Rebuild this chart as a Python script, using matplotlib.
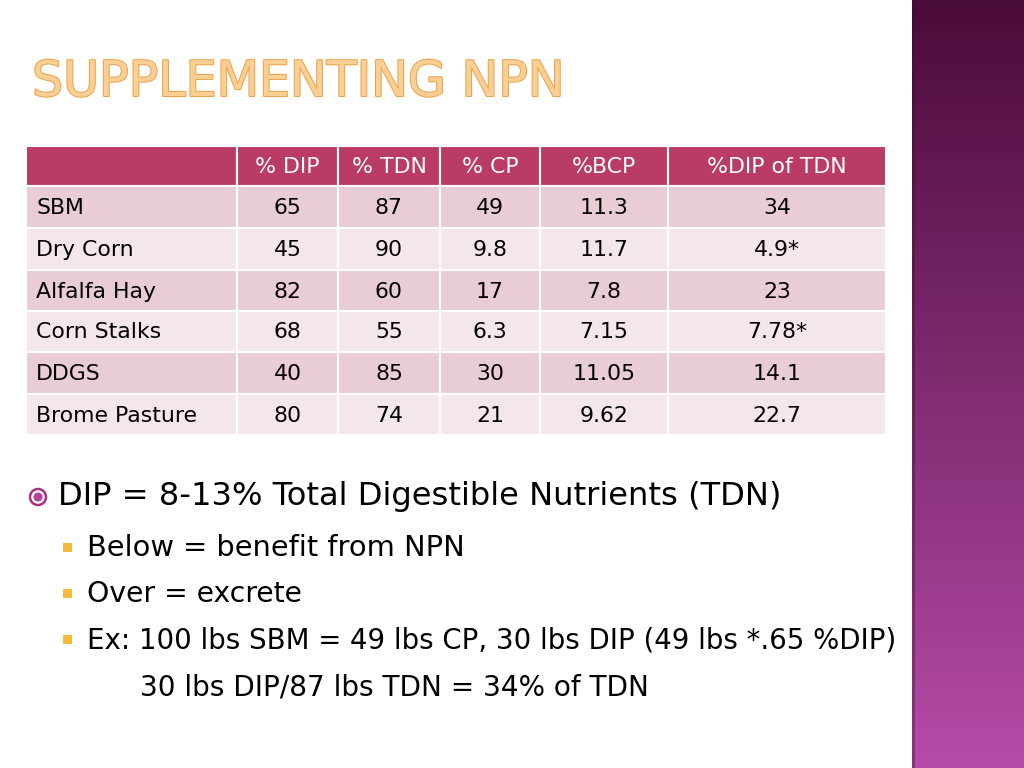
import numpy as np
import matplotlib
matplotlib.use("Agg")
import matplotlib.pyplot as plt
from matplotlib.patches import Rectangle, Circle
import matplotlib.patheffects as pe

# Table data
headers = ["", "% DIP", "% TDN", "% CP", "%BCP", "%DIP of TDN"]
feeds = ["SBM", "Dry Corn", "Alfalfa Hay", "Corn Stalks", "DDGS", "Brome Pasture"]
dip = ["65", "45", "82", "68", "40", "80"]
tdn = ["87", "90", "60", "55", "85", "74"]
cp = ["49", "9.8", "17", "6.3", "30", "21"]
bcp = ["11.3", "11.7", "7.8", "7.15", "11.05", "9.62"]
dip_of_tdn = ["34", "4.9*", "23", "7.78*", "14.1", "22.7"]

title = "SUPPLEMENTING NPN"
main_bullet = "DIP = 8-13% Total Digestible Nutrients (TDN)"
sub_bullets = ["Below = benefit from NPN",
               "Over = excrete",
               "Ex: 100 lbs SBM = 49 lbs CP, 30 lbs DIP (49 lbs *.65 %DIP)"]
extra_line = "30 lbs DIP/87 lbs TDN = 34% of TDN"

FONT = "DejaVu Sans"
TSIZE = 15.8

fig = plt.figure(figsize=(10.24, 7.68), dpi=100)
ax = fig.add_axes([0, 0, 1, 1])
ax.set_xlim(0, 1024)
ax.set_ylim(768, 0)
ax.axis("off")

# purple sidebar gradient
c_top = np.array([0x4a, 0x0c, 0x3a]) / 255
c_bot = np.array([0xb6, 0x4b, 0xa8]) / 255
t = np.linspace(0, 1, 256)[:, None]
grad = c_top * (1 - t[..., None]) + c_bot * t[..., None]
grad = np.repeat(grad, 2, axis=1)
ax.imshow(grad, extent=[912, 1024, 768, 0], aspect="auto", zorder=1)
ax.add_patch(Rectangle((912, 0), 3, 768, color="#3a0a30", alpha=0.35, lw=0, zorder=2))

renderer = fig.canvas.get_renderer()


def fit_text(x, y, s, width, size=20, **kw):
    txt = ax.text(x, y, s, fontsize=size, family=FONT, **kw)
    w = txt.get_window_extent(renderer).width
    txt.set_fontsize(size * width / w)
    return txt


# title
tt = fit_text(32, 82, title, 533, size=40, color="#f9cf94", va="center",
              ha="left", zorder=3)
tt.set_path_effects([pe.Stroke(linewidth=1.5, foreground="#eba552"), pe.Normal()])

# table
col_edges = [26, 237, 338, 440, 540, 668, 886]
row_edges = [146, 186, 228, 270, 311, 352, 394, 435]
columns = [feeds, dip, tdn, cp, bcp, dip_of_tdn]

for j in range(len(headers)):
    x0, x1 = col_edges[j], col_edges[j + 1]
    y0, y1 = row_edges[0], row_edges[1]
    ax.add_patch(Rectangle((x0, y0), x1 - x0, y1 - y0, facecolor="#b93b66",
                           edgecolor="white", lw=1.5, zorder=3))
    if headers[j]:
        ax.text((x0 + x1) / 2, (y0 + y1) / 2 + 1, headers[j], color="white",
                fontsize=TSIZE, family=FONT, ha="center", va="center", zorder=4)

for i in range(len(feeds)):
    y0, y1 = row_edges[i + 1], row_edges[i + 2]
    fc = "#e8cdd4" if i % 2 == 0 else "#f3e7eb"
    for j, col in enumerate(columns):
        x0, x1 = col_edges[j], col_edges[j + 1]
        ax.add_patch(Rectangle((x0, y0), x1 - x0, y1 - y0, facecolor=fc,
                               edgecolor="white", lw=1.5, zorder=3))
        if j == 0:
            ax.text(x0 + 10, (y0 + y1) / 2 + 1, col[i], fontsize=TSIZE, family=FONT,
                    ha="left", va="center", color="black", zorder=4)
        else:
            ax.text((x0 + x1) / 2, (y0 + y1) / 2 + 1, col[i], fontsize=TSIZE,
                    family=FONT, ha="center", va="center", color="black", zorder=4)

# bullets
ax.add_patch(Circle((38, 497), 8, facecolor="white", edgecolor="#a8327e",
                    lw=1.8, zorder=3))
ax.add_patch(Circle((38, 497), 4.5, facecolor="#b6409a", lw=0, zorder=4))
fit_text(58, 497, main_bullet, 725, size=24, va="center", ha="left",
         color="black", zorder=3)

sub_y = [548, 594, 640]
sub_w = [378, 215, 811]
for yy, s, w in zip(sub_y, sub_bullets, sub_w):
    ax.add_patch(Rectangle((63, yy - 5), 9, 9, facecolor="#f5b93c", lw=0, zorder=3))
    fit_text(87, yy, s, w, size=20, va="center", ha="left", color="black", zorder=3)

fit_text(140, 688, extra_line, 510, size=20, va="center", ha="left",
         color="black", zorder=3)

fig.savefig("out.png", dpi=100)
